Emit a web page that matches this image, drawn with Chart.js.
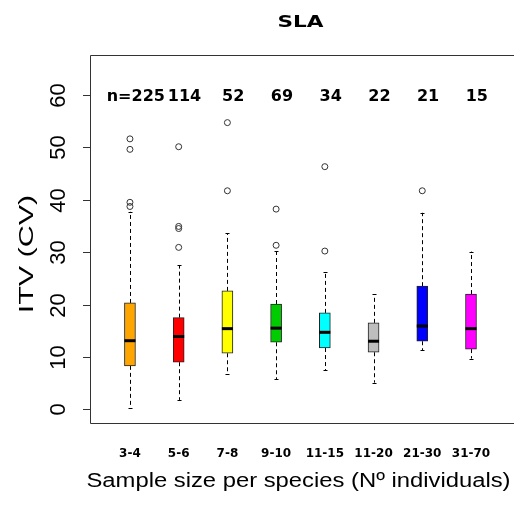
<!DOCTYPE html>
<html>
<head>
<meta charset="utf-8">
<script src="https://cdn.jsdelivr.net/npm/chart.js@4.4.1/dist/chart.umd.min.js"></script>
<style>
  html, body { margin: 0; padding: 0; background: #ffffff; }
  canvas { display: block; }
</style>
</head>
<body>
<canvas id="chart" width="514" height="506"></canvas>
<script>
// Sample-size classes (x categories)
const categories = ['3-4', '5-6', '7-8', '9-10', '11-15', '11-20', '21-30', '31-70'];
// Number of species in each class
const counts = ['n=225', '114', '52', '69', '34', '22', '21', '15'];
// Box statistics of ITV (CV) per class
const lowerWhisker = [0.3, 1.8, 6.7, 5.8, 7.5, 5.1, 11.3, 9.7];
const q1 = [8.3, 9.0, 10.7, 12.8, 11.7, 10.9, 13.0, 11.5];
const median = [13.1, 13.9, 15.4, 15.5, 14.7, 13.0, 15.9, 15.4];
const q3 = [20.3, 17.5, 22.6, 20.1, 18.4, 16.5, 23.5, 22.0];
const upperWhisker = [37.7, 27.5, 33.6, 30.2, 26.2, 22.0, 37.5, 30.1];
const outliers = [
  [51.6, 49.6, 39.5, 38.7],
  [50.1, 34.9, 34.5, 30.9],
  [54.7, 41.7],
  [38.2, 31.3],
  [46.3, 30.2],
  [],
  [41.7],
  []
];
const boxColors = ['#FFA500', '#FF0000', '#FFFF00', '#00CD00', '#00FFFF', '#BEBEBE', '#0000FF', '#FF00FF'];
const yTicks = [0, 10, 20, 30, 40, 50, 60];
const countLabelLevel = 60;

const positions = categories.map((_, i) => i + 1);

const boxData = positions.map((x, i) => ({ x: x, y: [q1[i], q3[i]] }));
const outlierData = [];
outliers.forEach((vals, i) => vals.forEach(v => outlierData.push({ x: positions[i], y: v })));

function stretchedText(ctx, text, x, y, font, sx, angle, align, baseline) {
  ctx.save();
  ctx.translate(x, y);
  if (angle) ctx.rotate(angle);
  ctx.scale(sx, 1);
  ctx.font = font;
  ctx.textAlign = align;
  ctx.textBaseline = baseline;
  ctx.fillStyle = '#000';
  ctx.fillText(text, 0, 0);
  ctx.restore();
}

const boxplotExtras = {
  id: 'boxplotExtras',
  beforeDatasetsDraw(chart) {
    const { ctx, scales: { x, y } } = chart;
    ctx.save();
    ctx.strokeStyle = '#000';
    ctx.lineWidth = 1;
    positions.forEach((p, i) => {
      const px = Math.round(x.getPixelForValue(p)) + 0.5;
      // dashed whiskers
      ctx.setLineDash([4, 3]);
      ctx.beginPath();
      ctx.moveTo(px, y.getPixelForValue(q3[i]));
      ctx.lineTo(px, y.getPixelForValue(upperWhisker[i]));
      ctx.moveTo(px, y.getPixelForValue(q1[i]));
      ctx.lineTo(px, y.getPixelForValue(lowerWhisker[i]));
      ctx.stroke();
      // whisker caps
      ctx.setLineDash([]);
      ctx.beginPath();
      const yu = Math.round(y.getPixelForValue(upperWhisker[i])) + 0.5;
      const yl = Math.round(y.getPixelForValue(lowerWhisker[i])) + 0.5;
      ctx.moveTo(px - 2, yu); ctx.lineTo(px + 2, yu);
      ctx.moveTo(px - 2, yl); ctx.lineTo(px + 2, yl);
      ctx.stroke();
    });
    ctx.restore();
  },
  afterDatasetsDraw(chart) {
    const { ctx, scales: { y } } = chart;
    const meta = chart.getDatasetMeta(0);
    ctx.save();
    ctx.strokeStyle = '#000';
    ctx.lineWidth = 3;
    meta.data.forEach((bar, i) => {
      const half = bar.width / 2;
      const py = y.getPixelForValue(median[i]);
      ctx.beginPath();
      ctx.moveTo(bar.x - half, py);
      ctx.lineTo(bar.x + half, py);
      ctx.stroke();
    });
    ctx.restore();
  },
  afterDraw(chart) {
    const { ctx, chartArea: a, scales: { x, y } } = chart;
    ctx.save();
    // plot frame
    ctx.strokeStyle = '#333';
    ctx.lineWidth = 1;
    ctx.beginPath();
    ctx.moveTo(a.right + 5, a.top + 0.5);
    ctx.lineTo(a.left + 0.5, a.top + 0.5);
    ctx.lineTo(a.left + 0.5, a.bottom + 0.5);
    ctx.lineTo(a.right + 5, a.bottom + 0.5);
    ctx.stroke();
    // y axis ticks and rotated labels
    yTicks.forEach(v => {
      const py = Math.round(y.getPixelForValue(v)) + 0.5;
      ctx.beginPath();
      ctx.moveTo(a.left - 7, py);
      ctx.lineTo(a.left, py);
      ctx.stroke();
      stretchedText(ctx, String(v), a.left - 25, py, '22px "Liberation Sans", Arial, sans-serif', 1, -Math.PI / 2, 'center', 'alphabetic');
    });
    ctx.restore();

    // category labels and group sizes
    positions.forEach((p, i) => {
      stretchedText(ctx, categories[i], x.getPixelForValue(p), 457, 'bold 12px "DejaVu Sans", sans-serif', 1, 0, 'center', 'alphabetic');
      stretchedText(ctx, counts[i], x.getPixelForValue(p + 0.12), y.getPixelForValue(countLabelLevel) + 6, 'bold 16px "DejaVu Sans", sans-serif', 1, 0, 'center', 'alphabetic');
    });

    // titles
    const midX = (x.getPixelForValue(0.18) + x.getPixelForValue(8.82)) / 2;
    stretchedText(ctx, 'SLA', midX, 27, 'bold 16px "DejaVu Sans", sans-serif', 1.35, 0, 'center', 'alphabetic');
    stretchedText(ctx, 'Sample size per species (Nº individuals)', midX - 2, 487, '20px "Liberation Sans", Arial, sans-serif', 1.19, 0, 'center', 'alphabetic');
    stretchedText(ctx, 'ITV (CV)', 33, 254, '21px "Liberation Sans", Arial, sans-serif', 1.45, -Math.PI / 2, 'center', 'alphabetic');
  }
};

new Chart(document.getElementById('chart'), {
  data: {
    datasets: [
      {
        type: 'bar',
        data: boxData,
        backgroundColor: boxColors,
        borderColor: '#222',
        borderWidth: 1,
        borderSkipped: false,
        barThickness: 11,
        order: 1
      },
      {
        type: 'scatter',
        data: outlierData,
        pointStyle: 'circle',
        pointRadius: 3,
        backgroundColor: 'rgba(0,0,0,0)',
        borderColor: '#333',
        borderWidth: 1,
        order: 0
      }
    ]
  },
  options: {
    responsive: false,
    devicePixelRatio: 1,
    animation: false,
    layout: { padding: { left: 90, top: 55, right: 0, bottom: 83 } },
    plugins: { legend: { display: false }, tooltip: { enabled: false }, title: { display: false } },
    scales: {
      x: { type: 'linear', min: 0.18, max: 8.78, offset: false, display: false },
      y: { type: 'linear', min: -2.6, max: 67.6, display: false }
    }
  },
  plugins: [boxplotExtras]
});
</script>
</body>
</html>
